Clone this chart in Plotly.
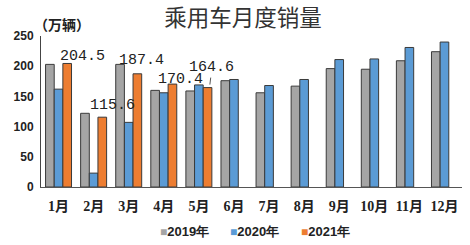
import plotly.graph_objects as go

months = ["1月", "2月", "3月", "4月", "5月", "6月", "7月", "8月", "9月", "10月", "11月", "12月"]
sales_2019 = [203, 122, 203, 160, 159, 176, 156, 167, 196, 195, 209, 224]
sales_2020 = [162, 23, 107, 156, 169, 178, 168, 178, 211, 212, 231, 240]
sales_2021 = [204.5, 115.6, 187.4, 170.4, 164.6, None, None, None, None, None, None, None]
y_ticks = [0, 50, 100, 150, 200, 250]

series = [("2019年", sales_2019, "#A5A5A5"),
          ("2020年", sales_2020, "#5B9BD5"),
          ("2021年", sales_2021, "#ED7D31")]

# pixel offsets of the 2021 value labels (layout only): (xshift, yshift)
label_offsets = [(24, 7), (18.5, 12), (12.6, 13), (16.4, 5), (13.2, 20)]

fig = go.Figure()
line = dict(color="#3a3a3a", width=1)
for name, vals, col in series:
    fig.add_trace(go.Bar(x=months, y=vals, name=name, marker=dict(color=col, line=line)))

label_font = dict(family="Liberation Mono, monospace", size=15, color="#222")
annotations = []
for i, v in enumerate(sales_2021):
    if v is None:
        continue
    dx, dy = label_offsets[i]
    if i == 4:
        annotations.append(dict(x=months[i], y=v, xref="x", yref="y", text=f"{v:.1f}",
                                showarrow=True, arrowhead=0, arrowwidth=0.9, arrowcolor="#444",
                                ax=2, ay=-17, xshift=11, yshift=3,
                                font=label_font))
    else:
        annotations.append(dict(x=months[i], y=v, xref="x", yref="y", text=f"{v:.1f}",
                                showarrow=False, xshift=dx, yshift=dy,
                                xanchor="center", yanchor="middle", font=label_font))

annotations.append(dict(text="（万辆）", xref="paper", yref="paper", x=-0.022, y=1.08,
                        xanchor="left", yanchor="middle", showarrow=False,
                        font=dict(family="Noto Sans CJK SC", size=14, color="#222", weight="bold")))

# legend row
for k, (name, vals, col) in enumerate(series):
    annotations.append(dict(
        text=f'<span style="color:{col};font-size:12px">■</span>{name}',
        xref="paper", yref="paper", x=0.34 + 0.168 * k, y=-0.296,
        xanchor="center", yanchor="middle", showarrow=False,
        font=dict(family="Liberation Sans, Arial", size=13, color="#222", weight="bold")))

fig.update_layout(
    width=470, height=245,
    margin=dict(l=41, r=8, t=36, b=58),
    paper_bgcolor="white", plot_bgcolor="white",
    barmode="group", bargap=0.26, bargroupgap=0,
    title=dict(text="乘用车月度销量", x=0.517, xanchor="center", y=0.925, yanchor="middle",
               font=dict(family="Noto Sans CJK SC", size=22.5, color="#333")),
    showlegend=False,
    xaxis=dict(showline=True, linecolor="#555", linewidth=1, ticks="", showgrid=False,
               ticklabelstandoff=6,
               tickfont=dict(family="Liberation Serif, Noto Sans CJK SC", size=14, color="#222", weight="bold")),
    yaxis=dict(range=[0, 250], tickvals=y_ticks, showline=True, linecolor="#444", linewidth=1,
               showgrid=False, zeroline=False, ticks="", ticklabelstandoff=4,
               tickfont=dict(family="Liberation Sans, Arial", size=12, color="#222", weight="bold")),
    annotations=annotations,
)

fig.write_html("out.html")
